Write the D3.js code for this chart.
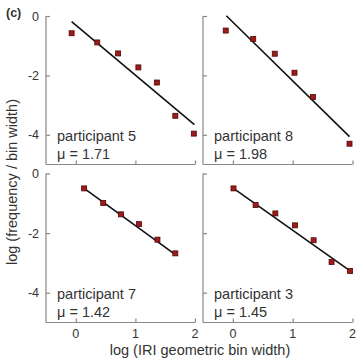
<!DOCTYPE html>
<html lang="en">
<head>
<meta charset="utf-8">
<title></title>
<script src="https://d3js.org/d3.v7.min.js"></script>
<style type="text/css">
  body { margin: 0; background: #fff; }
  svg text { font-family: "Liberation Sans", Arial, sans-serif; fill: #333; }
  .axis path, .axis line { stroke: #888; stroke-width: 1.2px; fill: none; }
  .fit { stroke: #111; stroke-width: 1.6px; fill: none; }
  .pt { fill: #a01a1a; stroke: #4a0808; stroke-width: 0.8px; }
</style>
</head>
<body>
<svg width="356" height="359"></svg>
<script>
// data
var participants = ["participant 5", "participant 8", "participant 7", "participant 3"];
var muLabels = ["\u03bc = 1.71", "\u03bc = 1.98", "\u03bc = 1.42", "\u03bc = 1.45"];

var xs5 = [-0.07, 0.36, 0.71, 1.05, 1.36, 1.67, 1.98];
var ys5 = [-0.58, -0.89, -1.26, -1.73, -2.24, -3.36, -3.96];
var xs8 = [-0.12, 0.34, 0.70, 1.03, 1.34, 1.95];
var ys8 = [-0.49, -0.77, -1.27, -1.91, -2.73, -4.30];
var xs7 = [0.14, 0.46, 0.76, 1.06, 1.37, 1.67];
var ys7 = [-0.50, -0.99, -1.37, -1.70, -2.22, -2.68];
var xs3 = [0.01, 0.38, 0.71, 1.04, 1.35, 1.65, 1.96];
var ys3 = [-0.50, -1.06, -1.34, -1.74, -2.24, -2.97, -3.27];

// fitted line end points [x1, y1, x2, y2]
var fit5 = [-0.07, -0.19, 1.99, -3.66];
var fit8 = [-0.11, 0.01, 1.95, -4.06];
var fit7 = [0.14, -0.50, 1.67, -2.72];
var fit3 = [0.01, -0.50, 1.96, -3.27];

var xTicks = [0, 1, 2];
var yTicks = [0, -2, -4];

var panels = [
  {xs: xs5, ys: ys5, fit: fit5, left: 46, right: 195, top: 16, bottom: 164.5, xLab: false, yLab: true},
  {xs: xs8, ys: ys8, fit: fit8, left: 203, right: 352.5, top: 16, bottom: 164.5, xLab: false, yLab: false},
  {xs: xs7, ys: ys7, fit: fit7, left: 46, right: 195, top: 173.5, bottom: 322.5, xLab: true, yLab: true},
  {xs: xs3, ys: ys3, fit: fit3, left: 203, right: 352.5, top: 173.5, bottom: 322.5, xLab: true, yLab: false}
];

var svg = d3.select("svg");

panels.forEach(function(p, i) {
  var x = d3.scaleLinear().domain([-0.5, 2]).range([p.left, p.right]);
  var y = d3.scaleLinear().domain([-5, 0]).range([p.bottom, p.top]);
  var g = svg.append("g");

  // y axis, ticks pointing inward
  var ya = g.append("g").attr("class", "axis")
    .attr("transform", `translate(${p.left},0)`)
    .call(d3.axisRight(y).tickValues(yTicks).tickSize(4).tickSizeOuter(0).tickFormat(""));
  ya.select(".domain").attr("d", `M0,${p.top}V${p.bottom}`);
  if (p.yLab) {
    yTicks.forEach(function(t) {
      g.append("text").attr("x", p.left - 7).attr("y", y(t) + 4.5)
        .attr("text-anchor", "end").style("font-size", "12.5px").text(t);
    });
  }

  // x axis, ticks pointing inward
  var xa = g.append("g").attr("class", "axis")
    .attr("transform", `translate(0,${p.bottom})`)
    .call(d3.axisTop(x).tickValues(xTicks).tickSize(4).tickSizeOuter(0).tickFormat(""));
  xa.select(".domain").attr("d", `M${p.left},0H${p.right}`);
  if (p.xLab) {
    xTicks.forEach(function(t) {
      g.append("text").attr("x", x(t)).attr("y", p.bottom + 15)
        .attr("text-anchor", "middle").style("font-size", "12.5px").text(t);
    });
  }

  g.append("line").attr("class", "fit")
    .attr("x1", x(p.fit[0])).attr("y1", y(p.fit[1]))
    .attr("x2", x(p.fit[2])).attr("y2", y(p.fit[3]));

  g.selectAll("rect.pt").data(p.xs).enter().append("rect")
    .attr("class", "pt")
    .attr("x", (d) => x(d) - 2.5)
    .attr("y", (d, j) => y(p.ys[j]) - 2.5)
    .attr("width", 5).attr("height", 5);

  g.append("text").attr("x", p.left + 11).attr("y", p.top + 125)
    .style("font-size", "14.5px").text(participants[i]);
  g.append("text").attr("x", p.left + 11).attr("y", p.top + 143)
    .style("font-size", "14.5px").text(muLabels[i]);
});

svg.append("text").attr("x", 6).attr("y", 17)
  .style("font-size", "12.5px").style("font-weight", "bold").text("(c)");

svg.append("text").attr("x", 200).attr("y", 355)
  .attr("text-anchor", "middle").style("font-size", "14.5px")
  .text("log (IRI geometric bin width)");

svg.append("text")
  .attr("transform", "translate(17,182) rotate(-90)")
  .attr("text-anchor", "middle").style("font-size", "14.5px")
  .text("log (frequency / bin width)");
</script>
</body>
</html>
